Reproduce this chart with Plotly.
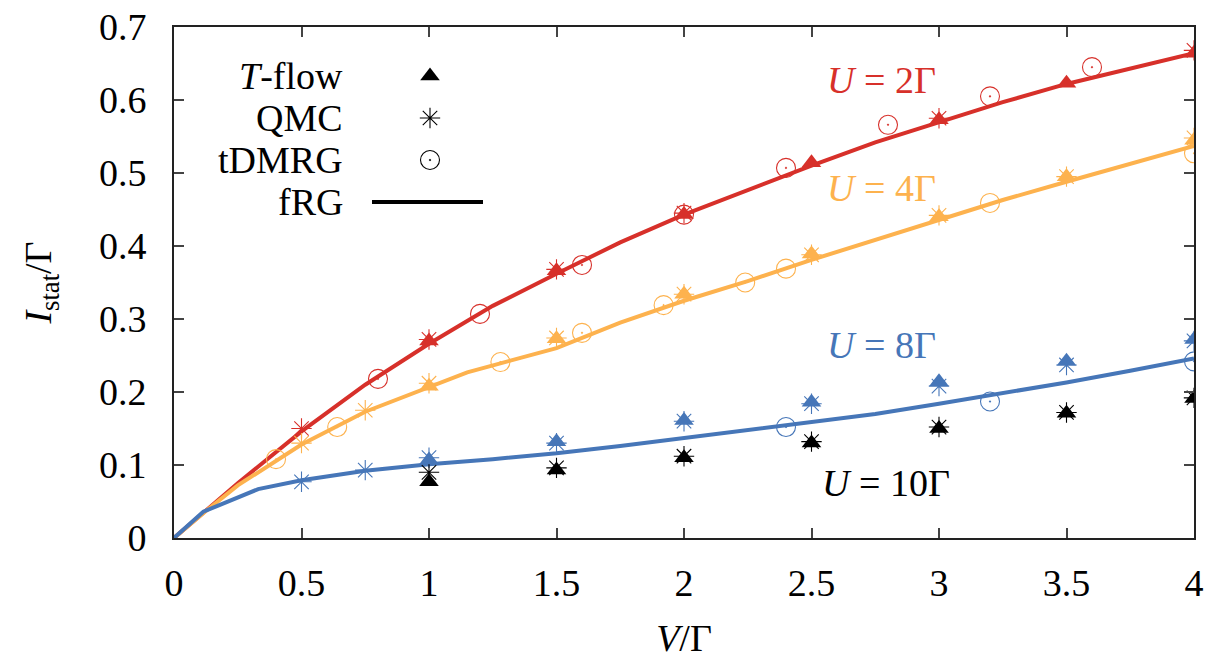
import plotly.graph_objects as go

# ---------------- data ----------------
# fRG curves
V_frg_u2 = [0, 0.125, 0.25, 0.5, 0.75, 1.0, 1.25, 1.5, 1.75, 2.0, 2.25, 2.5, 2.75, 3.0, 3.25, 3.5, 3.75, 4.0]
I_frg_u2 = [0, 0.037, 0.075, 0.146, 0.210, 0.266, 0.318, 0.362, 0.405, 0.443, 0.477, 0.510, 0.542, 0.570, 0.597, 0.622, 0.643, 0.664]

V_frg_u4 = [0, 0.125, 0.25, 0.5, 0.75, 1.0, 1.15, 1.5, 1.75, 2.0, 2.25, 2.5, 2.75, 3.0, 3.25, 3.5, 3.75, 4.0]
I_frg_u4 = [0, 0.037, 0.072, 0.128, 0.173, 0.206, 0.227, 0.260, 0.295, 0.325, 0.352, 0.381, 0.408, 0.436, 0.463, 0.488, 0.513, 0.537]

V_frg_u8 = [0, 0.115, 0.33, 0.5, 0.75, 1.0, 1.25, 1.5, 1.75, 2.0, 2.25, 2.5, 2.75, 3.0, 3.25, 3.5, 3.75, 4.0]
I_frg_u8 = [0, 0.036, 0.067, 0.079, 0.092, 0.101, 0.108, 0.116, 0.126, 0.137, 0.147, 0.158, 0.170, 0.184, 0.198, 0.213, 0.229, 0.246]

# T-flow
V_tflow = [1.0, 1.5, 2.0, 2.5, 3.0, 3.5, 4.0]
I_tflow_u2 = [0.270, 0.366, 0.443, 0.514, 0.573, 0.623, 0.664]
I_tflow_u4 = [0.208, 0.273, 0.334, 0.389, 0.440, 0.495, 0.545]
I_tflow_u8 = [0.107, 0.132, 0.161, 0.186, 0.214, 0.242, 0.272]
I_tflow_u10 = [0.077, 0.093, 0.110, 0.130, 0.150, 0.171, 0.191]

# QMC
V_qmc_u2 = [0.5, 1.0, 1.5, 2.0, 3.0, 4.0]
I_qmc_u2 = [0.150, 0.272, 0.368, 0.445, 0.575, 0.668]
V_qmc_u4 = [0.5, 0.75, 1.0, 1.5, 2.0, 2.5, 3.0, 3.5, 4.0]
I_qmc_u4 = [0.130, 0.175, 0.212, 0.274, 0.334, 0.388, 0.442, 0.495, 0.548]
V_qmc_u8 = [0.5, 0.75, 1.0, 1.5, 2.0, 2.5, 3.0, 3.5, 4.0]
I_qmc_u8 = [0.077, 0.093, 0.110, 0.130, 0.160, 0.184, 0.208, 0.237, 0.270]
V_qmc_u10 = [1.0, 1.5, 2.0, 2.5, 3.0, 3.5, 4.0]
I_qmc_u10 = [0.090, 0.096, 0.112, 0.132, 0.152, 0.172, 0.192]

# tDMRG
V_dmrg_u2 = [0.8, 1.2, 1.6, 2.0, 2.4, 2.8, 3.2, 3.6]
I_dmrg_u2 = [0.218, 0.307, 0.374, 0.443, 0.507, 0.566, 0.605, 0.645]
V_dmrg_u4 = [0.4, 0.64, 1.28, 1.6, 1.92, 2.24, 2.4, 3.2, 4.0]
I_dmrg_u4 = [0.108, 0.152, 0.241, 0.281, 0.319, 0.350, 0.369, 0.459, 0.527]
V_dmrg_u8 = [2.4, 3.2, 4.0]
I_dmrg_u8 = [0.152, 0.187, 0.242]

x_ticks = [0, 0.5, 1, 1.5, 2, 2.5, 3, 3.5, 4]
x_tick_labels = ["0", "0.5", "1", "1.5", "2", "2.5", "3", "3.5", "4"]
y_ticks = [0, 0.1, 0.2, 0.3, 0.4, 0.5, 0.6, 0.7]
y_tick_labels = ["0", "0.1", "0.2", "0.3", "0.4", "0.5", "0.6", "0.7"]

legend_labels = ["<i>T</i>-flow", "QMC", "tDMRG", "fRG"]

# ---------------- style ----------------
RED = "#d7302a"
ORANGE = "#fdb24e"
BLUE = "#4676b8"
BLACK = "#000000"
FONT = "Liberation Serif, DejaVu Serif, serif"
FS = 38

LW = 4
TRI = dict(symbol="triangle-up", size=17)
AST = dict(symbol="asterisk-open", size=17)
CIR = dict(symbol="circle-open-dot", size=19)

fig = go.Figure()

def line(x, y, c):
    fig.add_trace(go.Scatter(x=x, y=y, mode="lines", line=dict(color=c, width=LW),
                             showlegend=False, hoverinfo="skip"))

def mk(x, y, c, spec, lw=1.1):
    m = dict(spec)
    m.update(color=c, line=dict(color=c, width=lw))
    fig.add_trace(go.Scatter(x=x, y=y, mode="markers", marker=m,
                             showlegend=False, hoverinfo="skip"))

line(V_frg_u2, I_frg_u2, RED)
line(V_frg_u4, I_frg_u4, ORANGE)
line(V_frg_u8, I_frg_u8, BLUE)

for (vx, iy, c) in [(V_dmrg_u2, I_dmrg_u2, RED), (V_dmrg_u4, I_dmrg_u4, ORANGE), (V_dmrg_u8, I_dmrg_u8, BLUE)]:
    mk(vx, iy, c, CIR)
for (vx, iy, c) in [(V_qmc_u2, I_qmc_u2, RED), (V_qmc_u4, I_qmc_u4, ORANGE),
                    (V_qmc_u8, I_qmc_u8, BLUE), (V_qmc_u10, I_qmc_u10, BLACK)]:
    mk(vx, iy, c, AST)
for (iy, c) in [(I_tflow_u2, RED), (I_tflow_u4, ORANGE), (I_tflow_u8, BLUE), (I_tflow_u10, BLACK)]:
    mk(V_tflow, iy, c, TRI, lw=0)

# ---------------- legend key (hidden overlay axis, pixel units of plot area) ----------------
legend_rows = [462, 420, 378, 336]
legend_sym_x = 256
legend_line_x = [198, 309]
fig.add_trace(go.Scatter(x=[legend_sym_x], y=[legend_rows[0]], xaxis="x2", yaxis="y2", mode="markers",
                         marker=dict(symbol="triangle-up", size=17, color=BLACK, line=dict(width=0)),
                         showlegend=False, hoverinfo="skip"))
fig.add_trace(go.Scatter(x=[legend_sym_x], y=[legend_rows[1]], xaxis="x2", yaxis="y2", mode="markers",
                         marker=dict(symbol="asterisk-open", size=17, color=BLACK, line=dict(width=1.1, color=BLACK)),
                         showlegend=False, hoverinfo="skip"))
fig.add_trace(go.Scatter(x=[legend_sym_x], y=[legend_rows[2]], xaxis="x2", yaxis="y2", mode="markers",
                         marker=dict(symbol="circle-open-dot", size=19, color=BLACK, line=dict(width=1.1, color=BLACK)),
                         showlegend=False, hoverinfo="skip"))
fig.add_trace(go.Scatter(x=legend_line_x, y=[legend_rows[3]] * 2, xaxis="x2", yaxis="y2", mode="lines",
                         line=dict(color=BLACK, width=LW), showlegend=False, hoverinfo="skip"))

annotations = []
for lab, r in zip(legend_labels, legend_rows):
    annotations.append(dict(text=lab, xref="x2", yref="y2", x=171, y=r, xanchor="right", yanchor="middle",
                            showarrow=False, font=dict(family=FONT, size=FS, color=BLACK)))

u_labels = [("<i>U</i> = 2Γ", RED, 0.694, 0.896),
            ("<i>U</i> = 4Γ", ORANGE, 0.694, 0.685),
            ("<i>U</i> = 8Γ", BLUE, 0.694, 0.378),
            ("<i>U</i> = 10Γ", BLACK, 0.698, 0.108)]
for t, c, x, y in u_labels:
    annotations.append(dict(text=t, xref="paper", yref="paper", x=x, y=y, xanchor="center", yanchor="middle",
                            showarrow=False, font=dict(family=FONT, size=FS, color=c)))

axis_common = dict(showgrid=False, zeroline=False, showline=True, linecolor="#222222", linewidth=2,
                   mirror="ticks", ticks="inside", ticklen=10, tickwidth=1.5, tickcolor="#444444",
                   automargin=False, tickfont=dict(family=FONT, size=FS, color=BLACK))

fig.update_layout(
    width=1205, height=662,
    paper_bgcolor="white", plot_bgcolor="white",
    margin=dict(l=174, r=11, t=27, b=124),
    showlegend=False,
    font=dict(family=FONT, size=FS, color=BLACK),
    xaxis=dict(range=[0, 4], tickvals=x_ticks, ticktext=x_tick_labels, ticklabelstandoff=10,
               title=dict(text="<i>V</i>/Γ", font=dict(family=FONT, size=FS, color=BLACK), standoff=22),
               **axis_common),
    yaxis=dict(range=[0, 0.7], tickvals=y_ticks, ticktext=y_tick_labels, ticklabelstandoff=18,
               title=dict(text="<i>I</i><sub>stat</sub>/Γ", font=dict(family=FONT, size=FS, color=BLACK), standoff=36),
               **axis_common),
    xaxis2=dict(overlaying="x", range=[0, 1020], visible=False, anchor="y2", automargin=False),
    yaxis2=dict(overlaying="y", range=[0, 511], visible=False, anchor="x2", automargin=False),
    annotations=annotations,
)

fig.write_html("out.html", config={"displayModeBar": False},
               post_script="document.body.style.margin='0';document.body.style.overflow='hidden';")
